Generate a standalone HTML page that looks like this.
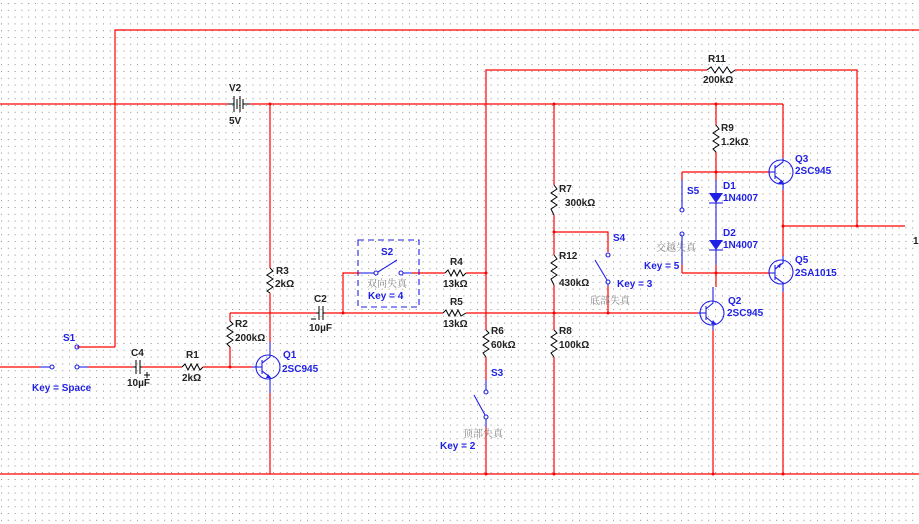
<!DOCTYPE html>
<html><head><meta charset="utf-8"><style>
html,body{margin:0;padding:0;background:#fff;}
svg{display:block;}
text{font-family:"Liberation Sans","Noto Sans CJK SC",sans-serif;font-size:10px;font-weight:bold;}
.b{fill:#1f1fe6;}
.k{fill:#222;}
.g{fill:#888;font-weight:normal;font-family:"Noto Serif CJK SC","Liberation Serif",serif;font-size:10px;}
</style></head><body>
<svg width="919" height="524" viewBox="0 0 919 524" xmlns="http://www.w3.org/2000/svg">
<defs><pattern id="dots" x="1" y="3" width="6.8" height="6.8" patternUnits="userSpaceOnUse"><rect x="0" y="0" width="1" height="1" fill="#8a8a8a"/></pattern></defs>
<rect width="919" height="524" fill="url(#dots)"/>
<g stroke="#f00" stroke-width="1.2" fill="none">
<!-- top wire -->
<polyline points="115,347 115,30 919,30"/>
<line x1="77" y1="347" x2="115" y2="347"/>
<!-- rail 104 -->
<line x1="0" y1="104" x2="228" y2="104"/>
<line x1="250" y1="104" x2="783" y2="104"/>
<line x1="783" y1="104" x2="783" y2="158"/>
<!-- bottom rail -->
<line x1="0" y1="474" x2="919" y2="474"/>
<!-- input -->
<line x1="0" y1="367" x2="40" y2="367"/>
<line x1="88" y1="367" x2="133" y2="367"/>
<line x1="142" y1="367" x2="182" y2="367"/>
<line x1="203" y1="367" x2="252" y2="367"/>
<!-- R2 -->
<line x1="230" y1="313" x2="230" y2="321"/>
<line x1="230" y1="347" x2="230" y2="367"/>
<line x1="230" y1="313" x2="316" y2="313"/>
<line x1="325" y1="313" x2="443" y2="313"/>
<line x1="466" y1="313" x2="698" y2="313"/>
<!-- Q1 column -->
<line x1="270" y1="104" x2="270" y2="268"/>
<line x1="270" y1="293" x2="270" y2="342"/>
<line x1="270" y1="393" x2="270" y2="474"/>
<!-- S2 -->
<polyline points="343,313 343,273 360,273"/>
<line x1="412" y1="273" x2="445" y2="273"/>
<line x1="466" y1="273" x2="486" y2="273"/>
<!-- R11 -->
<polyline points="486,330 486,70 707,70"/>
<polyline points="735,70 857,70 857,226"/>
<!-- R6/S3 -->
<line x1="486" y1="357" x2="486" y2="380"/>
<line x1="486" y1="427" x2="486" y2="474"/>
<!-- 554 column -->
<line x1="554" y1="104" x2="554" y2="185"/>
<line x1="554" y1="215" x2="554" y2="255"/>
<line x1="554" y1="285" x2="554" y2="330"/>
<line x1="554" y1="357" x2="554" y2="474"/>
<polyline points="554,232 608,232 608,252"/>
<line x1="608" y1="286" x2="608" y2="313"/>
<!-- R9 col -->
<line x1="716" y1="104" x2="716" y2="125"/>
<line x1="716" y1="152" x2="716" y2="180"/>
<line x1="682" y1="172" x2="770" y2="172"/>
<line x1="682" y1="273" x2="770" y2="273"/>
<line x1="716" y1="265" x2="716" y2="287"/>
<line x1="713" y1="330" x2="713" y2="474"/>
<!-- Q3/Q5 column -->
<line x1="783" y1="190" x2="783" y2="256"/>
<line x1="783" y1="226" x2="905" y2="226"/>
<line x1="783" y1="292" x2="783" y2="474"/>
<line x1="682" y1="172" x2="682" y2="180"/>
<line x1="682" y1="265" x2="682" y2="273"/>
</g>
<!-- junction dots -->
<g fill="#f00">
<circle cx="230" cy="367" r="1.5"/><circle cx="343" cy="313" r="1.5"/><circle cx="270" cy="104" r="1.5"/>
<circle cx="486" cy="273" r="1.5"/><circle cx="554" cy="104" r="1.5"/><circle cx="554" cy="232" r="1.5"/>
<circle cx="554" cy="313" r="1.5"/><circle cx="608" cy="313" r="1.5"/><circle cx="716" cy="104" r="1.5"/>
<circle cx="716" cy="172" r="1.5"/><circle cx="716" cy="273" r="1.5"/><circle cx="783" cy="226" r="1.5"/>
<circle cx="857" cy="226" r="1.5"/><circle cx="486" cy="474" r="1.5"/><circle cx="554" cy="474" r="1.5"/>
<circle cx="713" cy="474" r="1.5"/><circle cx="783" cy="474" r="1.5"/>
</g>
<!-- black components -->
<g stroke="#000" stroke-width="1" fill="none">
<!-- V2 -->
<line x1="228" y1="104" x2="234" y2="104"/><line x1="234" y1="96" x2="234" y2="112"/><line x1="237" y1="99" x2="237" y2="109"/>
<line x1="240" y1="96" x2="240" y2="112"/><line x1="243" y1="99" x2="243" y2="109"/><line x1="243" y1="104" x2="250" y2="104"/>
<!-- C4 -->
<line x1="133" y1="367" x2="136" y2="367"/><line x1="136" y1="360" x2="136" y2="374"/><line x1="140" y1="360" x2="140" y2="374"/><line x1="140" y1="367" x2="142" y2="367"/>
<line x1="144" y1="375" x2="150" y2="375"/><line x1="147" y1="372" x2="147" y2="378"/>
<!-- C2 -->
<line x1="316" y1="313" x2="319" y2="313"/><line x1="319" y1="306" x2="319" y2="320"/><line x1="323" y1="306" x2="323" y2="320"/><line x1="323" y1="313" x2="325" y2="313"/>
<line x1="311" y1="319" x2="316" y2="319"/>
<!-- horizontal resistors -->
<polyline points="182,367 185,364 188,370 191,364 194,370 197,364 200,370 203,367"/>
<polyline points="445,273 448,270 451,276 454,270 457,276 460,270 463,276 466,273"/>
<polyline points="443,313 446,310 449,316 452,310 455,316 458,310 461,316 466,313"/>
<polyline points="707,70 711,67 715,73 719,67 723,73 727,67 731,73 735,70"/>
<!-- vertical resistors -->
<polyline points="230,321 233,324 227,328 233,332 227,336 233,340 227,344 230,347"/>
<polyline points="270,268 273,271 267,275 273,279 267,283 273,287 267,291 270,293"/>
<polyline points="486,330 489,333 483,337 489,341 483,345 489,349 483,353 486,357"/>
<polyline points="554,185 557,189 551,193 557,197 551,201 557,205 551,209 554,215"/>
<polyline points="554,255 557,259 551,263 557,267 551,271 557,275 551,279 554,285"/>
<polyline points="554,330 557,333 551,337 557,341 551,345 557,349 551,353 554,357"/>
<polyline points="716,125 719,129 713,133 719,137 713,141 719,145 713,149 716,152"/>
</g>
<!-- blue parts -->
<g stroke="#1f1fe6" stroke-width="1.1" fill="none">
<line x1="40" y1="367" x2="50" y2="367"/><circle cx="52" cy="367" r="2"/><circle cx="77" cy="367" r="2"/><line x1="79" y1="367" x2="88" y2="367"/>
<circle cx="77" cy="347" r="2"/>
<rect x="358" y="240" width="61" height="67" stroke-dasharray="6,4"/>
<line x1="360" y1="273" x2="374" y2="273"/><circle cx="376" cy="273" r="2"/><line x1="378" y1="272" x2="397" y2="260"/><circle cx="401" cy="273" r="2"/><line x1="403" y1="273" x2="412" y2="273"/>
<!-- S3 -->
<line x1="486" y1="380" x2="486" y2="390"/><circle cx="486" cy="392" r="2"/><line x1="474" y1="395" x2="485" y2="415"/><circle cx="486" cy="417" r="2"/><line x1="486" y1="419" x2="486" y2="427"/>
<!-- S4 -->
<circle cx="608" cy="255" r="2"/><line x1="595" y1="260" x2="607" y2="280"/><circle cx="608" cy="282" r="2"/><line x1="608" y1="284" x2="608" y2="286"/>
<!-- S5 -->
<line x1="682" y1="180" x2="682" y2="208"/><circle cx="682" cy="210" r="2"/><circle cx="682" cy="234" r="2"/><line x1="682" y1="236" x2="682" y2="265"/>
<!-- diodes -->
<line x1="716" y1="180" x2="716" y2="265"/>
<line x1="709" y1="203" x2="723" y2="203"/><line x1="709" y1="250" x2="723" y2="250"/>
<!-- Q1 -->
<circle cx="268" cy="367" r="12"/><line x1="252" y1="367" x2="262" y2="367"/><line x1="262" y1="360" x2="262" y2="374"/>
<polyline points="262,363 270,357 270,342"/><polyline points="262,371 270,377 270,393"/>
<!-- Q2 -->
<circle cx="712" cy="313" r="12"/><line x1="698" y1="313" x2="706" y2="313"/><line x1="706" y1="306" x2="706" y2="320"/>
<polyline points="706,309 713,303 713,287"/><polyline points="706,317 713,323 713,330"/>
<!-- Q3 -->
<circle cx="781" cy="172" r="12"/><line x1="770" y1="172" x2="775" y2="172"/><line x1="775" y1="165" x2="775" y2="179"/>
<polyline points="775,168 783,162 783,158"/><polyline points="775,176 783,182 783,190"/>
<!-- Q5 -->
<circle cx="781" cy="272" r="12"/><line x1="770" y1="273" x2="775" y2="273"/><line x1="775" y1="265" x2="775" y2="280"/>
<polyline points="775,269 783,263 783,256"/><polyline points="775,277 783,283 783,292"/>
</g>
<g fill="#1f1fe6">
<polygon points="709,193 723,193 716,203"/><polygon points="709,240 723,240 716,250"/>
<polygon points="268,374 271,378 266,378"/><polygon points="713,320 716,324 711,324"/>
<polygon points="782,180 784,185 778,183"/><polygon points="777,266 781,263 780,268"/>
</g>
<!-- labels -->
<text x="63" y="341" class="b">S1</text>
<text x="32" y="391" class="b">Key = Space</text>
<text x="131" y="356" class="k">C4</text>
<text x="127" y="386" class="k">10µF</text>
<text x="186" y="358" class="k">R1</text>
<text x="182" y="381" class="k">2kΩ</text>
<text x="235" y="327" class="k">R2</text>
<text x="235" y="341" class="k">200kΩ</text>
<text x="276" y="274" class="k">R3</text>
<text x="275" y="287" class="k">2kΩ</text>
<text x="283" y="358" class="b">Q1</text>
<text x="282" y="372" class="b">2SC945</text>
<text x="314" y="302" class="k">C2</text>
<text x="309" y="331" class="k">10µF</text>
<text x="229" y="91" class="k">V2</text>
<text x="229" y="124" class="k">5V</text>
<text x="381" y="255" class="b">S2</text>
<text x="367" y="287" class="g">双向失真</text>
<text x="368" y="299" class="b">Key = 4</text>
<text x="450" y="265" class="k">R4</text>
<text x="443" y="287" class="k">13kΩ</text>
<text x="450" y="305" class="k">R5</text>
<text x="443" y="327" class="k">13kΩ</text>
<text x="708" y="62" class="k">R11</text>
<text x="703" y="83" class="k">200kΩ</text>
<text x="491" y="334" class="k">R6</text>
<text x="491" y="348" class="k">60kΩ</text>
<text x="491" y="376" class="b">S3</text>
<text x="463" y="437" class="g">顶部失真</text>
<text x="440" y="449" class="b">Key = 2</text>
<text x="559" y="192" class="k">R7</text>
<text x="565" y="206" class="k">300kΩ</text>
<text x="559" y="259" class="k">R12</text>
<text x="559" y="286" class="k">430kΩ</text>
<text x="559" y="334" class="k">R8</text>
<text x="559" y="348" class="k">100kΩ</text>
<text x="613" y="241" class="b">S4</text>
<text x="617" y="287" class="b">Key = 3</text>
<text x="590" y="304" class="g">底部失真</text>
<text x="721" y="131" class="k">R9</text>
<text x="721" y="145" class="k">1.2kΩ</text>
<text x="687" y="194" class="b">S5</text>
<text x="656" y="251" class="g">交越失真</text>
<text x="644" y="269" class="b">Key = 5</text>
<text x="723" y="189" class="b">D1</text>
<text x="723" y="201" class="b">1N4007</text>
<text x="723" y="236" class="b">D2</text>
<text x="723" y="248" class="b">1N4007</text>
<text x="728" y="304" class="b">Q2</text>
<text x="727" y="316" class="b">2SC945</text>
<text x="795" y="162" class="b">Q3</text>
<text x="795" y="174" class="b">2SC945</text>
<text x="795" y="263" class="b">Q5</text>
<text x="795" y="276" class="b">2SA1015</text>
<text x="913" y="244" class="k">1</text>
</svg>
</body></html>
